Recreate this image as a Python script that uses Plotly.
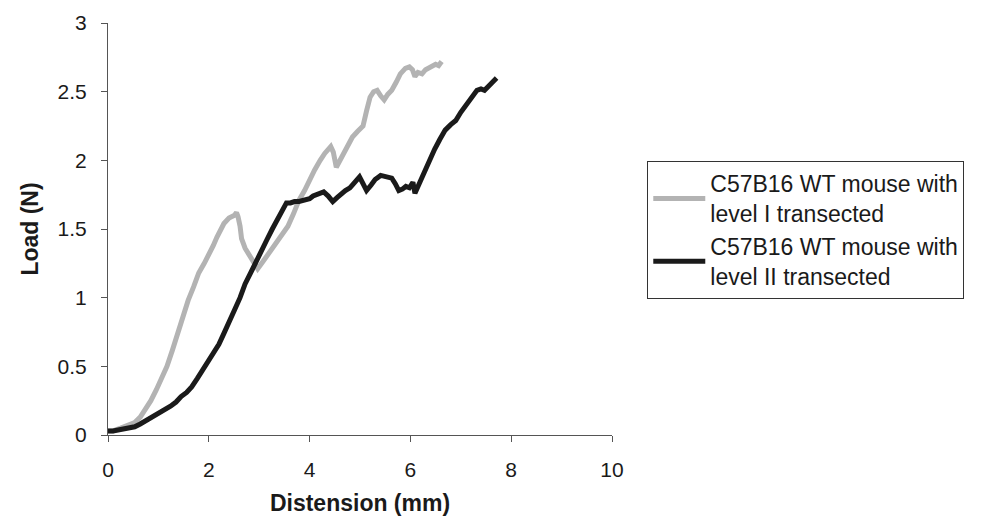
import plotly.graph_objects as go

# Level I transected (gray)
x_level1 = [0.0, 0.1, 0.25, 0.4, 0.53, 0.64, 0.74, 0.85, 0.96, 1.06, 1.17, 1.28, 1.38, 1.49, 1.59, 1.7, 1.8, 1.91,
            2.02, 2.09, 2.16, 2.23, 2.3, 2.4, 2.51, 2.55, 2.58, 2.62, 2.65, 2.72, 2.8, 2.87, 2.97, 3.05, 3.15, 3.25,
            3.36, 3.46, 3.57, 3.68, 3.79, 3.9, 4.0, 4.1, 4.21, 4.3, 4.42, 4.47, 4.53, 4.6, 4.7, 4.78, 4.85, 4.95,
            5.06, 5.13, 5.2, 5.27, 5.34, 5.41, 5.48, 5.55, 5.63, 5.72, 5.8, 5.9, 5.98, 6.04, 6.09, 6.15, 6.23,
            6.3, 6.4, 6.5, 6.56, 6.62]
y_level1 = [0.03, 0.03, 0.05, 0.07, 0.09, 0.13, 0.18, 0.25, 0.33, 0.41, 0.5, 0.62, 0.74, 0.86, 0.98, 1.08, 1.18, 1.25,
            1.32, 1.38, 1.44, 1.49, 1.54, 1.58, 1.6, 1.62, 1.59, 1.52, 1.43, 1.36, 1.31, 1.26, 1.21, 1.25, 1.3, 1.36,
            1.42, 1.46, 1.52, 1.61, 1.71, 1.78, 1.86, 1.93, 2.0, 2.05, 2.1, 2.06, 1.95, 2.0, 2.08, 2.12, 2.17, 2.21,
            2.25, 2.36, 2.46, 2.5, 2.51, 2.47, 2.44, 2.48, 2.51, 2.57, 2.63, 2.67, 2.68, 2.66, 2.61, 2.64, 2.63,
            2.66, 2.68, 2.7, 2.69, 2.72]

# Level II transected (black)
x_level2 = [0.0, 0.1, 0.25, 0.4, 0.53, 0.64, 0.74, 0.88, 1.03, 1.14, 1.24, 1.35, 1.45, 1.56, 1.66, 1.77, 1.88, 1.98,
            2.09, 2.2, 2.3, 2.41, 2.51, 2.62, 2.72, 2.83, 2.94, 3.04, 3.15, 3.26, 3.36, 3.45, 3.54, 3.62, 3.7,
            3.79, 3.9, 4.0, 4.07, 4.18, 4.28, 4.37, 4.46, 4.55, 4.63, 4.71, 4.8, 4.9, 4.99, 5.06, 5.13, 5.22,
            5.3, 5.41, 5.52, 5.63, 5.7, 5.77, 5.84, 5.91, 5.98, 6.05, 6.09, 6.17, 6.26, 6.37, 6.48, 6.58, 6.69,
            6.8, 6.9, 7.0, 7.11, 7.2, 7.32, 7.4, 7.47, 7.55, 7.61, 7.67, 7.71]
y_level2 = [0.03, 0.03, 0.04, 0.05, 0.06, 0.08, 0.1, 0.13, 0.16, 0.19, 0.21, 0.24, 0.28, 0.31, 0.35, 0.41, 0.47, 0.53,
            0.59, 0.66, 0.74, 0.82, 0.91, 1.0, 1.1, 1.18, 1.27, 1.35, 1.42, 1.5, 1.57, 1.63, 1.69, 1.69, 1.7,
            1.7, 1.71, 1.72, 1.74, 1.76, 1.77, 1.74, 1.7, 1.73, 1.76, 1.78, 1.8, 1.85, 1.88, 1.83, 1.78, 1.82,
            1.86, 1.89, 1.88, 1.87, 1.83, 1.78, 1.79, 1.81, 1.8, 1.84, 1.76, 1.83, 1.91, 2.0, 2.08, 2.15, 2.22,
            2.26, 2.29, 2.35, 2.41, 2.46, 2.51, 2.52, 2.51, 2.54, 2.56, 2.58, 2.6]

series_names = ["C57B16 WT mouse with<br>level I transected",
                "C57B16 WT mouse with<br>level II transected"]
series_colors = ["#b3b3b3", "#1a1a1a"]

x_ticks = [0, 2, 4, 6, 8, 10]
y_ticks = [0, 0.5, 1, 1.5, 2, 2.5, 3]
y_tick_labels = ["0", "0.5", "1", "1.5", "2", "2.5", "3"]

fig = go.Figure()
fig.add_trace(go.Scatter(x=x_level1, y=y_level1, mode="lines", name=series_names[0],
                         line=dict(color=series_colors[0], width=5)))
fig.add_trace(go.Scatter(x=x_level2, y=y_level2, mode="lines", name=series_names[1],
                         line=dict(color=series_colors[1], width=5)))

font_family = "Liberation Sans, Arial, sans-serif"
fig.update_layout(
    width=976, height=517,
    margin=dict(l=100, r=372, t=15, b=90, autoexpand=False),
    paper_bgcolor="white", plot_bgcolor="white",
    font=dict(family=font_family, color="#1a1a1a", size=20),
    showlegend=True,
    legend=dict(x=1.07, y=0.665, xanchor="left", yanchor="top",
                bordercolor="#333333", borderwidth=1,
                font=dict(size=23, color="#1a1a1a"),
                itemwidth=52, tracegroupgap=0, bgcolor="white"),
    xaxis=dict(range=[0, 10], tickvals=x_ticks, ticktext=[str(v) for v in x_ticks],
               showgrid=False, zeroline=False, showline=True, linecolor="#555555", linewidth=1,
               ticks="outside", ticklen=6, tickcolor="#555555", automargin=False,
               tickfont=dict(size=21), fixedrange=True, ticklabelstandoff=10,
               title=dict(text="<b>Distension (mm)</b>", font=dict(size=23), standoff=14)),
    yaxis=dict(range=[0, 3], tickvals=y_ticks, ticktext=y_tick_labels,
               showgrid=False, zeroline=False, showline=True, linecolor="#555555", linewidth=1,
               ticks="outside", ticklen=6, tickcolor="#555555", automargin=False,
               tickfont=dict(size=21), fixedrange=True, ticklabelstandoff=10,
               title=dict(text="<b>Load (N)</b>", font=dict(size=23), standoff=12)),
)

fig.write_html("out.html")
